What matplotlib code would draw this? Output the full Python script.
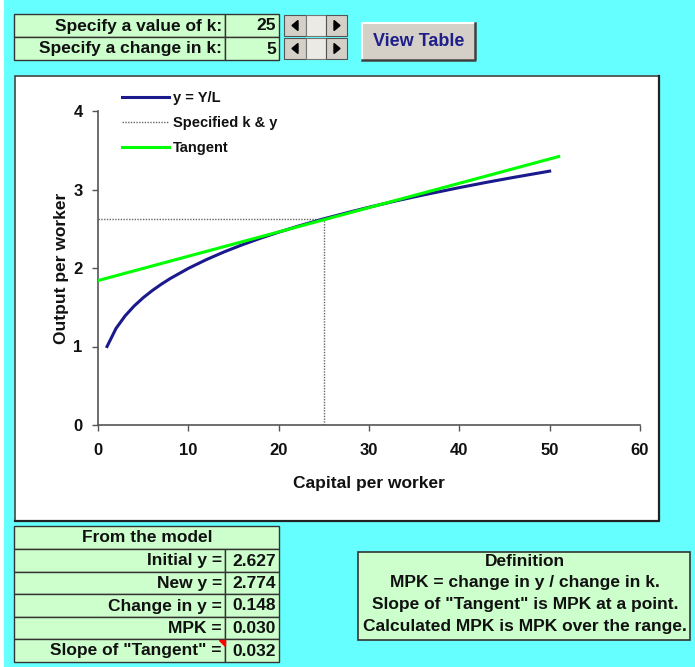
import matplotlib
matplotlib.use("Agg")
import matplotlib.pyplot as plt
from matplotlib.patches import Rectangle, Polygon

plt.rcParams['font.family'] = ['Liberation Sans', 'DejaVu Sans']
plt.rcParams['font.weight'] = 'bold'

# ---------------- data ----------------
k_values = [1, 2, 3, 4, 5, 6, 7, 8, 10, 12, 14, 16, 18, 20, 22, 25, 28, 30, 33, 36, 40, 43, 46, 50]
y_values = [1.000, 1.231, 1.390, 1.516, 1.621, 1.712, 1.793, 1.866, 1.995, 2.107, 2.207, 2.297,
            2.380, 2.456, 2.528, 2.627, 2.717, 2.774, 2.855, 2.930, 3.024, 3.091, 3.154, 3.234]
spec_k = 25
spec_y = 2.627
tangent_k = [0, 51]
tangent_y = [1.84, 3.42]
x_ticks = [0, 10, 20, 30, 40, 50, 60]
y_ticks = [0, 1, 2, 3, 4]

input_labels = ["Specify a value of k:", "Specify a change in k:"]
input_values = ["25", "5"]
model_title = "From the model"
model_labels = ["Initial y =", "New y =", "Change in y =", "MPK =", 'Slope of "Tangent" =']
model_values = ["2.627", "2.774", "0.148", "0.030", "0.032"]
definition_lines = ["Definition", "MPK = change in y / change in k.",
                    'Slope of "Tangent" is MPK at a point.',
                    "Calculated MPK is MPK over the range."]

CYAN = "#66FFFF"
CELL = "#CCFFCC"
GRAY = "#D4D0C8"
BORDER = "#333333"

W, H = 695, 667
fig = plt.figure(figsize=(W / 100, H / 100), dpi=100, facecolor=CYAN)

bg = fig.add_axes([0, 0, 1, 1])
bg.set_xlim(0, W)
bg.set_ylim(H, 0)
bg.axis('off')

def rect(x0, y0, x1, y1, fc, ec=BORDER, lw=1.0, z=1):
    bg.add_patch(Rectangle((x0, y0), x1 - x0, y1 - y0, facecolor=fc, edgecolor=ec, linewidth=lw, zorder=z))

# white edge strip on the left
rect(0, 0, 4, H, "white", ec="none")

# chart panel
rect(15, 76, 659, 521, "white", ec="#444444", lw=1.2)
bg.plot([659, 659, 15], [76, 521, 521], color="#222222", lw=1.6, zorder=2)

FS = 12.5
# top input table
rows_top = [14, 37, 60]
for i in range(2):
    rect(14, rows_top[i], 225, rows_top[i + 1], CELL)
    rect(225, rows_top[i], 279, rows_top[i + 1], CELL)
    yc = (rows_top[i] + rows_top[i + 1]) / 2
    bg.text(222, yc + 0.5, input_labels[i], ha='right', va='center', fontsize=FS, color="#111111")
    bg.text(276, yc + 0.5, input_values[i], ha='right', va='center', fontsize=FS, color="#111111")

# spinners
for i in range(2):
    y0, y1 = rows_top[i] + 1, rows_top[i + 1] - 1
    yc = (y0 + y1) / 2
    rect(284, y0, 306, y1, GRAY, ec="#555555", lw=0.8)
    rect(306, y0, 326, y1, "#ECEAE4", ec="#777777", lw=0.8)
    rect(326, y0, 347, y1, GRAY, ec="#555555", lw=0.8)
    bg.add_patch(Polygon([[292, yc], [298, yc - 5], [298, yc + 5]], closed=True, color="black", zorder=3))
    bg.add_patch(Polygon([[340, yc], [334, yc - 5], [334, yc + 5]], closed=True, color="black", zorder=3))

# View Table button
rect(362, 23, 475, 60, GRAY, ec="none")
bg.plot([362, 362, 475], [60, 23, 23], color="white", lw=1.5, zorder=2)
bg.plot([362, 475, 475], [60, 60, 23], color="#404040", lw=1.8, zorder=2)
bg.text(418.5, 42, "View Table", ha='center', va='center', fontsize=13, color="#1F1F8A")

# bottom model table
rows_bot = [526, 549, 572, 594, 617, 639, 662]
rect(14, rows_bot[0], 279, rows_bot[1], CELL)
bg.text(147, (rows_bot[0] + rows_bot[1]) / 2 + 0.5, model_title, ha='center', va='center', fontsize=FS, color="#111111")
for i in range(5):
    r0, r1 = rows_bot[i + 1], rows_bot[i + 2]
    rect(14, r0, 225, r1, CELL)
    rect(225, r0, 279, r1, CELL)
    yc = (r0 + r1) / 2
    bg.text(222, yc + 0.5, model_labels[i], ha='right', va='center', fontsize=FS, color="#111111")
    bg.text(276, yc + 0.5, model_values[i], ha='right', va='center', fontsize=FS, color="#111111")
bg.add_patch(Polygon([[219, 640], [225, 640], [225, 646]], closed=True, color="red", zorder=4))

# definition box
rect(358, 552, 690, 640, CELL, lw=1.2)
for txt, yy in zip(definition_lines, [561, 582, 604, 626]):
    bg.text(525, yy, txt, ha='center', va='center', fontsize=FS, color="#111111")

# ---------------- main chart ----------------
ax = fig.add_axes([98 / W, 1 - 425 / H, (640 - 98) / W, (425 - 111) / H])
ax.patch.set_alpha(0)
ax.plot(k_values, y_values, color="#1A1A8C", lw=2.2, label="y = Y/L", zorder=3)
ax.plot([0, spec_k, spec_k], [spec_y, spec_y, 0], color="#666666", lw=1.0, ls=(0, (1, 1)),
        label="Specified k & y", zorder=2)
ax.plot(tangent_k, tangent_y, color="#00FF00", lw=2.2, label="Tangent", zorder=4)

ax.set_xlim(0, 60)
ax.set_ylim(0, 4)
ax.set_xticks(x_ticks)
ax.set_yticks(y_ticks)
for s in ['top', 'right']:
    ax.spines[s].set_visible(False)
for s in ['left', 'bottom']:
    ax.spines[s].set_color("#555555")
    ax.spines[s].set_linewidth(1.2)
ax.tick_params(direction='out', length=4, width=1.0, color="#555555", labelsize=12,
               labelcolor="#111111")
ax.tick_params(axis='x', pad=9)
ax.tick_params(axis='y', pad=7)
for lab in ax.get_xticklabels() + ax.get_yticklabels():
    lab.set_fontweight('bold')
ax.set_xlabel("Capital per worker", fontsize=12.5, fontweight='bold', color="#111111", labelpad=13)
ax.set_ylabel("Output per worker", fontsize=12.5, fontweight='bold', color="#111111", labelpad=3)

leg = ax.legend(loc='upper left', bbox_to_anchor=(0.02, 1.105), frameon=False, fontsize=10.5,
                handlelength=3.2, handletextpad=0.3, labelspacing=0.75)
for t in leg.get_texts():
    t.set_fontweight('bold')
    t.set_color("#111111")

fig.savefig("out.png", dpi=100, facecolor=CYAN)
